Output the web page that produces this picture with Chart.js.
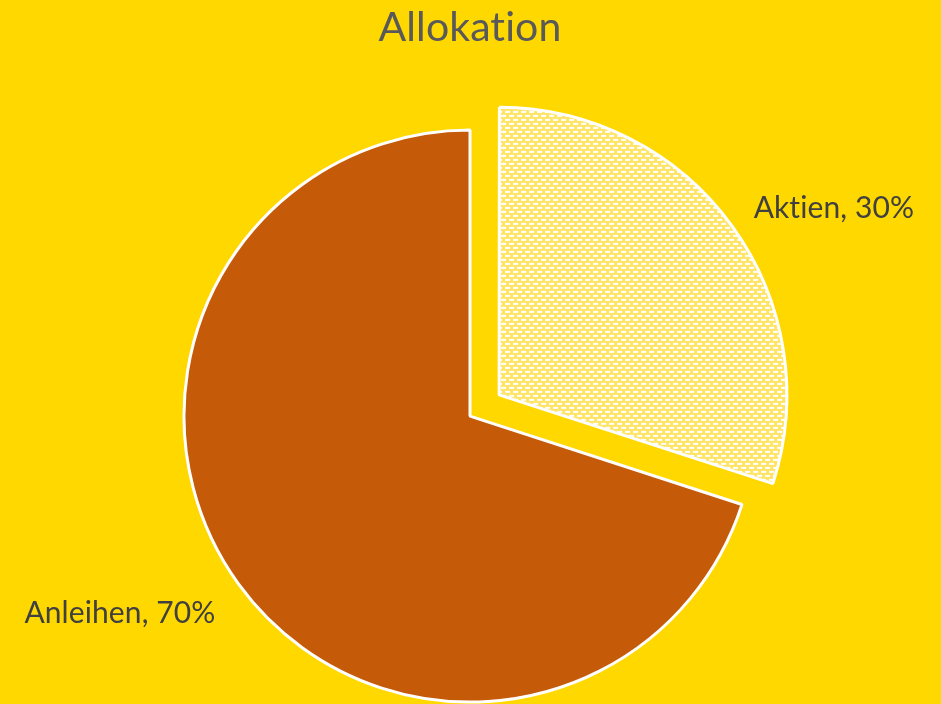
<!DOCTYPE html>
<html>
<head>
<meta charset="utf-8">
<script src="https://cdn.jsdelivr.net/npm/chart.js@4"></script>
<style>
  html, body { margin: 0; padding: 0; background: #FFD800; }
  canvas { display: block; }
</style>
</head>
<body>
<canvas id="c" width="941" height="704"></canvas>
<script>
const categories = ["Aktien", "Anleihen"];
const values = [30, 70];
const titleText = "Allokation";

const FONT = "Lato";

function makePattern() {
  const p = document.createElement('canvas');
  p.width = 8; p.height = 8;
  const g = p.getContext('2d');
  g.fillStyle = '#FFE466';
  g.fillRect(0, 0, 8, 8);
  g.fillStyle = '#FFFFFF';
  g.fillRect(0, 0, 5, 2);
  g.fillRect(4, 4, 5, 2);
  g.fillRect(-4, 4, 5, 2);
  return document.getElementById('c').getContext('2d').createPattern(p, 'repeat');
}

const bgPlugin = {
  id: 'bg',
  beforeDraw(chart) {
    const ctx = chart.ctx;
    ctx.save();
    ctx.fillStyle = '#FFD800';
    ctx.fillRect(0, 0, chart.width, chart.height);
    ctx.restore();
    // non-zero letter spacing disables optional ligatures (e.g. "ti")
    if ('letterSpacing' in ctx) ctx.letterSpacing = '0.1px';
  }
};

const labelPlugin = {
  id: 'sliceLabels',
  afterDatasetsDraw(chart) {
    const ctx = chart.ctx;
    const meta = chart.getDatasetMeta(0);
    const total = values.reduce((a, b) => a + b, 0);
    ctx.save();
    if ('letterSpacing' in ctx) ctx.letterSpacing = '0.1px';
    ctx.font = '30px ' + FONT;
    ctx.fillStyle = '#404040';
    ctx.textBaseline = 'middle';
    meta.data.forEach((arc, i) => {
      const p = arc.getProps(['x', 'y', 'startAngle', 'endAngle', 'outerRadius'], true);
      const mid = (p.startAngle + p.endAngle) / 2;
      const off = (arc.options.offset || 0) / 4;
      const cx = p.x + Math.cos(mid) * off;
      const cy = p.y + Math.sin(mid) * off;
      const r = p.outerRadius * 1.1;
      const lx = cx + Math.cos(mid) * r;
      const ly = cy + Math.sin(mid) * r;
      ctx.textAlign = Math.cos(mid) >= 0 ? 'left' : 'right';
      const pct = Math.round(values[i] / total * 100);
      ctx.fillText(categories[i] + ', ' + pct + '%', lx, ly + (Math.cos(mid) >= 0 ? -2 : 12));
    });
    ctx.restore();
  }
};

new Chart(document.getElementById('c'), {
  type: 'pie',
  data: {
    labels: categories,
    datasets: [{
      data: values,
      backgroundColor: [makePattern(), '#C55A08'],
      borderColor: '#FFFFFF',
      borderWidth: 3,
      offset: [144, 0],
      clip: false
    }]
  },
  options: {
    responsive: false,
    animation: false,
    devicePixelRatio: 1,
    radius: 286,
    layout: { padding: { left: 0, right: 1, top: 0, bottom: 0 } },
    plugins: {
      legend: { display: false },
      tooltip: { enabled: false },
      title: {
        display: true,
        text: titleText,
        color: '#595959',
        font: { family: FONT, size: 41, weight: 'normal', lineHeight: 1.2 },
        padding: { top: 3, bottom: 76 }
      }
    }
  },
  plugins: [bgPlugin, labelPlugin]
});
</script>
</body>
</html>
